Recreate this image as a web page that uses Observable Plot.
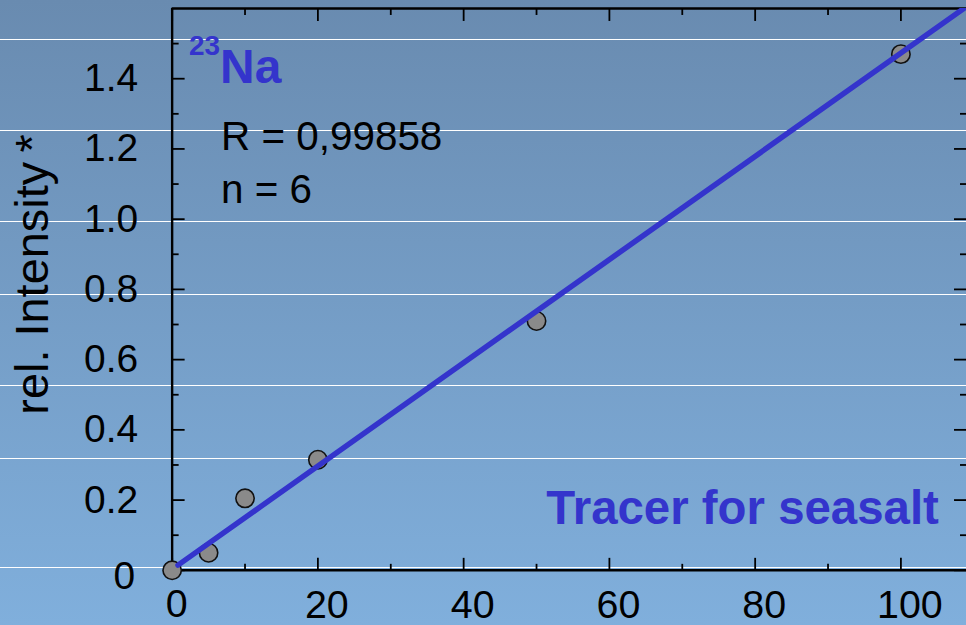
<!DOCTYPE html>
<html>
<head>
<meta charset="utf-8">
<script src="https://cdn.jsdelivr.net/npm/d3@7"></script>
<script src="https://cdn.jsdelivr.net/npm/@observablehq/plot@0.6"></script>
<style>
  html, body { margin: 0; padding: 0; overflow: hidden; background: #779fcb; }
  #chart {
    position: relative;
    width: 966px;
    height: 625px;
    overflow: hidden;
    background:
      linear-gradient(#fff, #fff) 0 39px / 100% 1px no-repeat,
      linear-gradient(#fff, #fff) 0 130px / 100% 1px no-repeat,
      linear-gradient(#fff, #fff) 0 221px / 100% 1px no-repeat,
      linear-gradient(#fff, #fff) 0 294px / 100% 1px no-repeat,
      linear-gradient(#fff, #fff) 0 385px / 100% 1px no-repeat,
      linear-gradient(#fff, #fff) 0 458px / 100% 1px no-repeat,
      linear-gradient(#fff, #fff) 0 567px / 100% 1px no-repeat,
      linear-gradient(to bottom, #698bb0 0%, #80afdc 100%);
  }
  #chart svg { display: block; }
</style>
</head>
<body>
<div id="chart"></div>
<script>
// Calibration series for 23Na (seasalt tracer)
const concentration = [0, 5, 10, 20, 50, 100];
const relIntensity = [0, 0.05, 0.205, 0.315, 0.71, 1.47];

// Linear calibration fit
const fitSlope = 0.0147;
const fitIntercept = 0.003;
const fitX = [0.8, 110];

// Axes
const xDomain = [0, 109];
const yDomain = [0, 1.6];
const xMajorTicks = [0, 20, 40, 60, 80, 100];
const xMinorTicks = [10, 30, 50, 70, 90];
const yMajorTicks = [0, 0.2, 0.4, 0.6, 0.8, 1.0, 1.2, 1.4];
const yMinorTicks = [0.1, 0.3, 0.5, 0.7, 0.9, 1.1, 1.3, 1.5];
const yLabel = "rel. Intensity\u2009*";

// Annotations
const isotopeMass = "23";
const element = "Na";
const statsLines = ["R = 0,99858", "n = 6"];
const note = "Tracer for seasalt";

const points = concentration.map((c, i) => ({x: c, y: relIntensity[i]}));
const fit = fitX.map(x => ({x, y: fitIntercept + fitSlope * x}));

const FONT = "'Liberation Sans', Arial, Helvetica, sans-serif";
const BLUE = "#3434cc";
const yFmt = d => d === 0 ? "0" : d.toFixed(1);

const tickStyle = {stroke: "#000", strokeWidth: 1.8, label: null, fill: "none"};

const chart = Plot.plot({
  width: 968,
  height: 625,
  marginLeft: 172,
  marginRight: 0,
  marginTop: 8,
  marginBottom: 54,
  style: {background: "transparent", fontFamily: FONT, color: "#000", overflow: "visible"},
  x: {domain: xDomain, axis: null},
  y: {domain: yDomain, axis: null},
  marks: [
    // inward-pointing ticks on all four sides
    Plot.axisX(xMajorTicks, {anchor: "bottom", tickSize: -12, ...tickStyle}),
    Plot.axisX(xMinorTicks, {anchor: "bottom", tickSize: -6, ...tickStyle}),
    Plot.axisX(xMajorTicks, {anchor: "top", tickSize: -12, ...tickStyle}),
    Plot.axisX(xMinorTicks, {anchor: "top", tickSize: -6, ...tickStyle}),
    Plot.axisY(yMajorTicks, {anchor: "left", tickSize: -13, ...tickStyle}),
    Plot.axisY(yMinorTicks, {anchor: "left", tickSize: -7, ...tickStyle}),
    Plot.axisY(yMajorTicks, {anchor: "right", tickSize: -13, ...tickStyle}),
    Plot.axisY(yMinorTicks, {anchor: "right", tickSize: -7, ...tickStyle}),

    // tick labels
    Plot.axisX(xMajorTicks.filter(d => d !== 0), {
      anchor: "bottom", tickSize: 0, tickPadding: 20, dx: 9,
      fontSize: 39.5, fill: "#000", label: null
    }),
    Plot.axisX([0], {
      anchor: "bottom", tickSize: 0, tickPadding: 19, dx: 4.5,
      fontSize: 39.5, fill: "#000", label: null
    }),
    Plot.axisY(yMajorTicks.filter(d => d !== 0), {
      anchor: "left", tickSize: 0, tickPadding: 34, tickFormat: yFmt,
      fontSize: 39, fill: "#000", label: null
    }),
    Plot.axisY([0], {
      anchor: "left", tickSize: 0, tickPadding: 37, dy: 6, tickFormat: yFmt,
      fontSize: 39, fill: "#000", label: null
    }),

    // y-axis title
    Plot.text([yLabel], {
      frameAnchor: "left", rotate: -90, dx: -124, dy: -15,
      textAnchor: "middle", lineAnchor: "bottom",
      fontSize: 47, fill: "#000"
    }),

    // frame (left, bottom, top)
    Plot.ruleY([yDomain[0], yDomain[1]], {stroke: "#000", strokeWidth: 2.4}),
    Plot.ruleX([xDomain[0]], {stroke: "#000", strokeWidth: 2.4}),

    // measured points
    Plot.dot(points, {x: "x", y: "y", r: 9.2, fill: "#8a8a8a", stroke: "#111", strokeWidth: 1.6}),

    // fitted calibration line
    Plot.line(fit, {x: "x", y: "y", stroke: BLUE, strokeWidth: 5.5, clip: true}),

    // annotations
    Plot.text([isotopeMass], {
      frameAnchor: "top-left", dx: 48, dy: 47, textAnchor: "end", lineAnchor: "bottom",
      fontSize: 28, fontWeight: "bold", fill: BLUE
    }),
    Plot.text([element], {
      frameAnchor: "top-left", dx: 48, dy: 75, textAnchor: "start", lineAnchor: "bottom",
      fontSize: 48, fontWeight: "bold", fill: BLUE
    }),
    Plot.text([statsLines[0]], {
      frameAnchor: "top-left", dx: 49, dy: 142, textAnchor: "start", lineAnchor: "bottom",
      fontSize: 40.5, fill: "#000"
    }),
    Plot.text([statsLines[1]], {
      frameAnchor: "top-left", dx: 49, dy: 195, textAnchor: "start", lineAnchor: "bottom",
      fontSize: 40.5, fill: "#000"
    }),
    Plot.text([note], {
      frameAnchor: "top-left", dx: 375, dy: 517, textAnchor: "start", lineAnchor: "bottom",
      fontSize: 47.5, fontWeight: "bold", fill: BLUE
    })
  ]
});

document.getElementById("chart").appendChild(chart);
</script>
</body>
</html>
